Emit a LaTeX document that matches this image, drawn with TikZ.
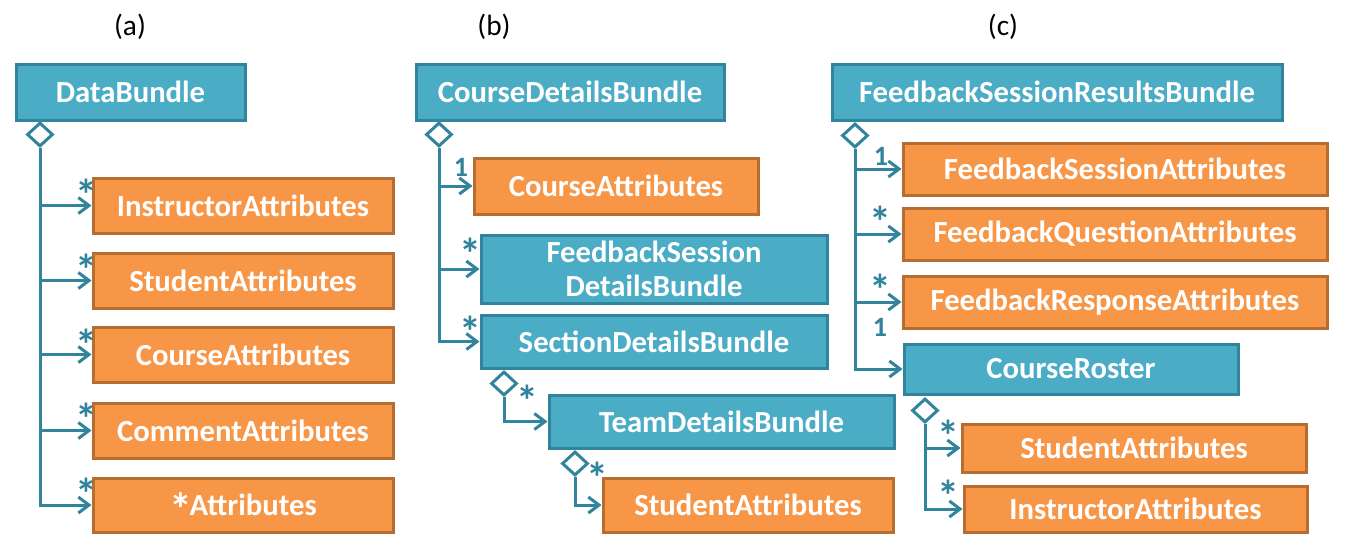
\documentclass[tikz,border=0pt]{standalone}
\usepackage{fontspec}
\setmainfont{Carlito}
\usetikzlibrary{shapes.geometric,arrows.meta}
\definecolor{tealfill}{HTML}{4BACC6}
\definecolor{tealline}{HTML}{31849B}
\definecolor{orfill}{HTML}{F79646}
\definecolor{orline}{HTML}{B66D31}
\newcommand\bigast{\raisebox{-0.32em}{\scalebox{1.5}{*}}}
\newcommand\mkbox[7]{%
  \pgfmathsetmacro\bxw{(#5-#3)*0.75}%
  \pgfmathsetmacro\bxh{(#6-#4)*0.75}%
  \node[#2, minimum width=\bxw pt, minimum height=\bxh pt] (#1) at ({(#3+#5)/2},{(#4+#6)/2}) {#7};%
}
\begin{document}
\begin{tikzpicture}[x={(0.75pt,0pt)},y={(0pt,-0.75pt)},
  boxbase/.style={line width=2.25pt, text=white, font=\bfseries\fontsize{23}{26}\selectfont, inner sep=0pt, align=center},
  tbox/.style={boxbase, draw=tealline, fill=tealfill},
  obox/.style={boxbase, draw=orline, fill=orfill},
  dia/.style={diamond, draw=tealline, fill=white, line width=2.25pt, inner sep=0pt, minimum width=19.5pt, minimum height=18pt, anchor=north},
  conn/.style={draw=tealline, line width=2.25pt},
  arr/.style={conn, -{Straight Barb[length=8pt,width=12pt]}},
  mult/.style={text=tealline, font=\bfseries\fontsize{21}{21}\selectfont, inner sep=0pt, anchor=base},
  mast/.style={text=tealline, font=\bfseries\fontsize{22}{22}\selectfont, inner sep=0pt, anchor=base},
  captxt/.style={font=\fontsize{22}{22}\selectfont, inner sep=0pt}
]
\useasboundingbox (0,0) rectangle (1350,550);
\fill[white] (0,0) rectangle (1350,550);

% captions
\node[captxt] (capa) at (130,27) {(a)};
\node[captxt] (capb) at (494,27) {(b)};
\node[captxt] (capc) at (1003,27) {(c)};

% (a)
\mkbox{db}{tbox}{16}{64}{245}{120}{DataBundle}
\mkbox{a1}{obox}{93}{178}{393}{233}{InstructorAttributes}
\mkbox{a2}{obox}{93}{253}{393}{308}{StudentAttributes}
\mkbox{a3}{obox}{93}{327}{393}{382}{CourseAttributes}
\mkbox{a4}{obox}{93}{403}{393}{458}{CommentAttributes}
\mkbox{a5}{obox}{93}{478}{393}{532}{\smash{\bigast}\kern-0.08em Attributes}
\node[dia] (dA) at (40,121) {};
\draw[arr] (dA.south) |- (a5.west);
\foreach \n in {a1,a2,a3,a4} \draw[arr] (dA.south |- \n.west) -- (\n.west);
\node[mast] (ma1) at (86,201) {\bigast};
\node[mast] (ma2) at (86,276) {\bigast};
\node[mast] (ma3) at (86,351) {\bigast};
\node[mast] (ma4) at (86,425) {\bigast};
\node[mast] (ma5) at (86,500) {\bigast};

% (b)
\mkbox{cdb}{tbox}{416}{64}{724}{120}{CourseDetailsBundle}
\mkbox{b1}{obox}{474}{158}{758}{214}{CourseAttributes}
\mkbox{b2}{tbox}{481}{235}{827}{303}{FeedbackSession\\DetailsBundle}
\mkbox{b3}{tbox}{481}{315}{827}{368}{SectionDetailsBundle}
\mkbox{b4}{tbox}{549}{395}{894}{448}{TeamDetailsBundle}
\mkbox{b5}{obox}{603}{478}{893}{532}{StudentAttributes}
\node[dia] (dB) at (439,121) {};
\draw[arr] (dB.south) |- (b3.west);
\foreach \n in {b1,b2} \draw[arr] (dB.south |- \n.west) -- (\n.west);
\node[dia] (dS) at (504,370) {};
\draw[arr] (dS.south) |- (b4.west);
\node[dia] (dT) at (575,450) {};
\draw[arr] (dT.south) |- (b5.west);
\node[mult] (mb1) at (461,176) {1};
\node[mast] (mb2) at (470,260) {\bigast};
\node[mast] (mb3) at (470,338) {\bigast};
\node[mast] (mb4) at (527,407) {\bigast};
\node[mast] (mb5) at (597,484) {\bigast};

% (c)
\mkbox{fsrb}{tbox}{832}{64}{1282}{120}{FeedbackSessionResultsBundle}
\mkbox{c1}{obox}{903}{143}{1327}{195}{FeedbackSessionAttributes}
\mkbox{c2}{obox}{903}{208}{1327}{260}{FeedbackQuestionAttributes}
\mkbox{c3}{obox}{903}{276}{1327}{328}{FeedbackResponseAttributes}
\mkbox{c4}{tbox}{904}{344}{1238}{394}{CourseRoster}
\mkbox{c5}{obox}{962}{424}{1306}{472}{StudentAttributes}
\mkbox{c6}{obox}{964}{486}{1307}{532}{InstructorAttributes}
\node[dia] (dC) at (855,122) {};
\draw[arr] (dC.south) |- (c4.west);
\foreach \n in {c1,c2,c3} \draw[arr] (dC.south |- \n.west) -- (\n.west);
\node[dia] (dR) at (925,397) {};
\draw[arr] (dR.south) |- (c6.west);
\draw[arr] (dR.south |- c5.west) -- (c5.west);
\node[mult] (mc1) at (881,165) {1};
\node[mast] (mc2) at (880,228) {\bigast};
\node[mast] (mc3) at (880,296) {\bigast};
\node[mult] (mc4) at (880,336) {1};
\node[mast] (mc5) at (948,442) {\bigast};
\node[mast] (mc6) at (948,502) {\bigast};
\end{tikzpicture}
\end{document}
